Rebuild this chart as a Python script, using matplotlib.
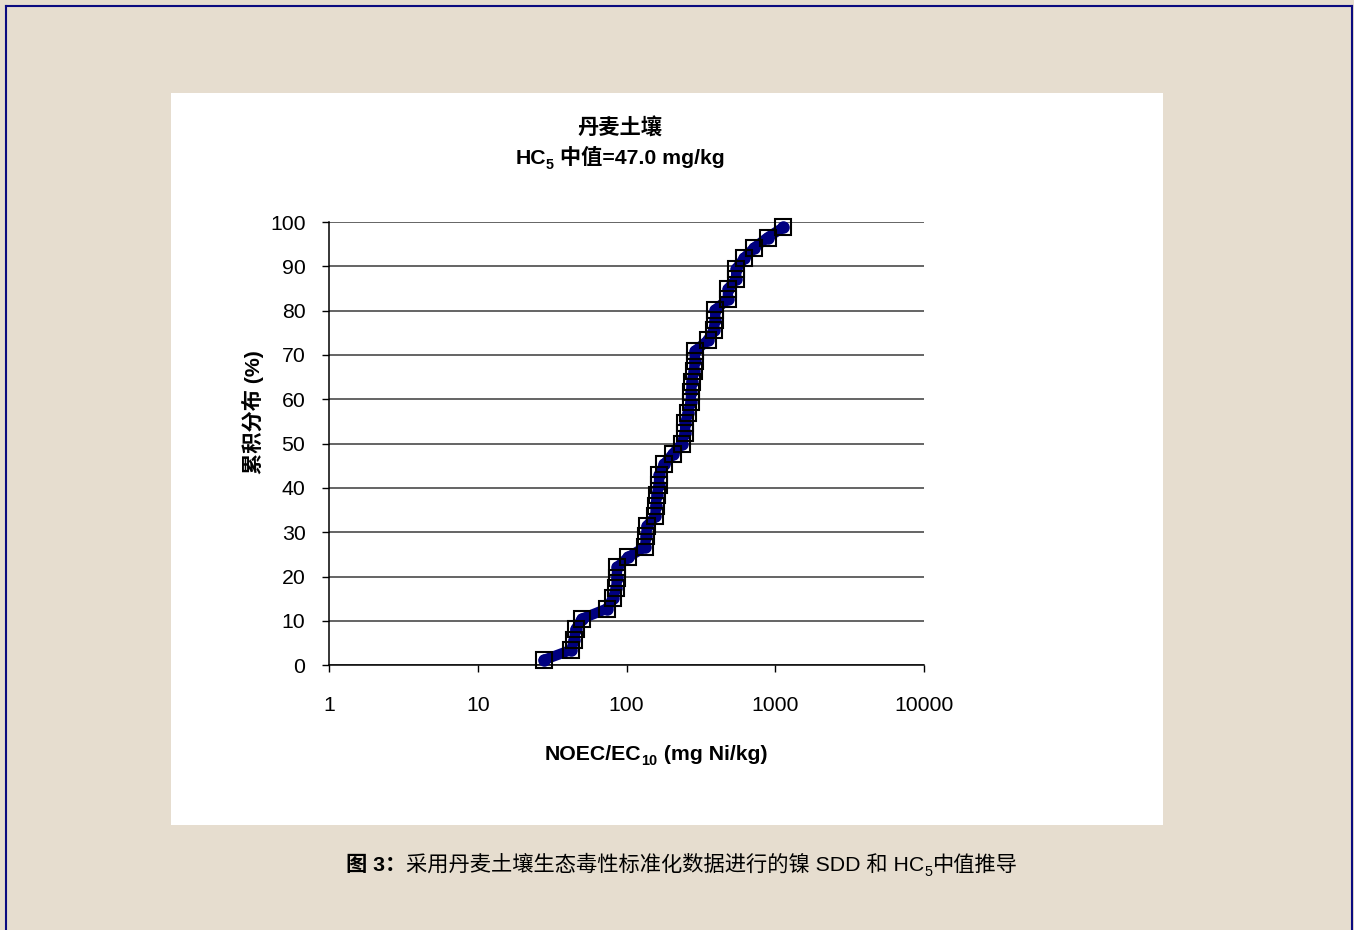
import matplotlib
matplotlib.use('Agg')
import matplotlib.pyplot as plt
from matplotlib.patches import Rectangle
from matplotlib.lines import Line2D

W, H = 1354, 930

# NOEC/EC10 values (mg Ni/kg)
noec = [27.8, 42.6, 44.5, 45.5, 50.1, 74.1, 80.8, 85.5, 86.0, 86.5,
        102.8, 133, 135.5, 137, 156.5, 157, 160, 165, 166, 179,
        205, 235, 247, 249, 259, 270, 272, 274, 285, 287,
        289, 352, 385, 394, 396, 479, 482, 545, 548, 620,
        723, 887, 1135]
# cumulative distribution (%)
cum_pct = [1.2, 3.5, 5.8, 8.1, 10.5, 12.8, 15.1, 17.4, 19.8, 22.1,
           24.4, 26.7, 29.1, 31.4, 33.7, 36.0, 38.4, 40.7, 43.0, 45.3,
           47.7, 50.0, 52.3, 54.7, 57.0, 59.3, 61.6, 64.0, 66.3, 68.6,
           70.9, 73.3, 75.6, 77.9, 80.2, 82.6, 84.9, 87.2, 89.5, 91.9,
           94.2, 96.5, 98.8]
y_ticks = [0, 10, 20, 30, 40, 50, 60, 70, 80, 90, 100]
x_ticks = [1, 10, 100, 1000, 10000]

FONTS = ['Liberation Sans', 'Noto Sans CJK SC', 'DejaVu Sans']
plt.rcParams['font.family'] = FONTS
FS = 15.3

fig = plt.figure(figsize=(W / 100, H / 100), dpi=100)
fig.patch.set_facecolor('#e6ddcf')


def fx(px):
    return px / W


def fy(py):
    return 1 - py / H


# page frame and white chart area
fig.add_artist(Line2D([fx(6), fx(6)], [fy(6), 0], color='#0b0b80', lw=1.5))
fig.add_artist(Line2D([fx(1352), fx(1352)], [fy(6), 0], color='#0b0b80', lw=1.5))
fig.add_artist(Line2D([fx(6), fx(1352)], [fy(6), fy(6)], color='#0b0b80', lw=1.5))
fig.add_artist(Rectangle((fx(171), fy(825)), fx(1163 - 171), (825 - 93) / H,
                         transform=fig.transFigure, facecolor='white',
                         edgecolor='none', zorder=0))

ax = fig.add_axes([fx(329), fy(665.3), fx(924 - 329), (665.3 - 222) / H])
ax.set_facecolor('none')
ax.set_xscale('log')
ax.set_xlim(1, 10000)
ax.set_ylim(0, 100)
ax.set_xticks(x_ticks)
ax.set_xticklabels([str(t) for t in x_ticks])
ax.xaxis.set_minor_locator(matplotlib.ticker.NullLocator())
ax.set_yticks(y_ticks)
ax.set_yticklabels([str(t) for t in y_ticks])
ax.tick_params(axis='y', direction='out', length=5, width=1, pad=12, labelsize=FS)
ax.tick_params(axis='x', direction='out', length=5, width=1, pad=17, labelsize=FS)
for side in ['top', 'right']:
    ax.spines[side].set_visible(False)
for side in ['left', 'bottom']:
    ax.spines[side].set_linewidth(1.1)
ax.yaxis.grid(True, color='#4a4a4a', lw=1.2)
ax.set_axisbelow(True)

ax.plot(noec, cum_pct, color='#000080', lw=7.5, marker='o', ms=8,
        solid_capstyle='round', zorder=3, clip_on=False)
ax.plot(noec, cum_pct, ls='none', marker='s', ms=11, mfc='none', mec='black',
        mew=1.5, zorder=4, clip_on=False)


def rich(xc, y, parts, size=FS, weight='bold'):
    # parts: (text, is_subscript, weight or None); centred at pixel xc, baseline y
    r = fig.canvas.get_renderer()
    texts = []
    for s, sub, w in parts:
        t = fig.text(0, fy(y), s, fontsize=size * (0.68 if sub else 1),
                     fontweight=w or weight, family=FONTS, va='baseline')
        texts.append((t, sub))
    widths = [t.get_window_extent(r).width for t, _ in texts]
    x = xc - sum(widths) / 2
    for (t, sub), wd in zip(texts, widths):
        t.set_x(fx(x))
        if sub:
            t.set_y(fy(y + size * 0.3))
        x += wd


rich(620, 135, [('丹麦土壤', False, None)])
rich(620, 164, [('HC', False, None), ('5', True, None), (' 中值=47.0 mg/kg', False, None)])
rich(656, 760, [('NOEC/EC', False, None), ('10', True, None), (' (mg Ni/kg)', False, None)])
rich(682, 871, [('图 3：', False, 'bold'), ('采用丹麦土壤生态毒性标准化数据进行的镍 SDD 和 HC', False, 'normal'),
                ('5', True, 'normal'), ('中值推导', False, 'normal')])

fig.text(fx(253), fy(412), '累积分布 (%)', rotation=90, fontsize=FS, fontweight='bold',
         family=FONTS, ha='center', va='center')

plt.savefig('out.png', dpi=100, facecolor=fig.get_facecolor())
